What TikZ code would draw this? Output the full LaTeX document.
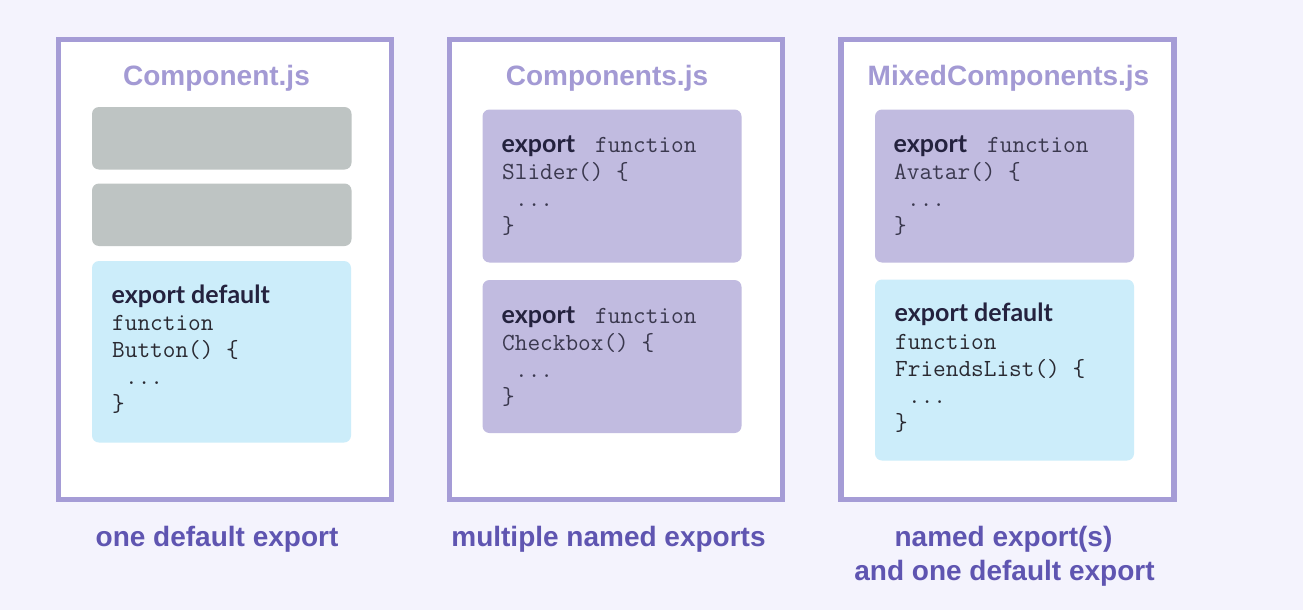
\documentclass[tikz,border=0pt]{standalone}
\usepackage{fontspec}
\setmainfont{Liberation Sans}
\newfontfamily\kwfont{Lato}
\newcommand\codefont{\ttfamily}

\definecolor{pagebg}{HTML}{F4F3FD}
\definecolor{framecol}{HTML}{A59CD6}
\definecolor{titlecol}{HTML}{A39AD4}
\definecolor{labelcol}{HTML}{5F55B1}
\definecolor{grayfill}{HTML}{BEC4C3}
\definecolor{bluefill}{HTML}{CCEDFA}
\definecolor{purplefill}{HTML}{C1BBE0}
\definecolor{kwcol}{HTML}{24223E}
\definecolor{codecolA}{HTML}{3A384E}
\definecolor{codecolB}{HTML}{2A2A32}

\tikzset{
  filebox/.style={draw=framecol, line width=5.5pt, fill=white, inner sep=0pt,
    minimum width=333pt, minimum height=460pt},
  block/.style={rounded corners=7pt, inner sep=0pt, draw=none},
  graybox/.style={block, fill=grayfill},
  bluebox/.style={block, fill=bluefill},
  purplebox/.style={block, fill=purplefill},
  title/.style={anchor=base, inner sep=0pt, text=titlecol,
    font=\fontsize{28}{34}\selectfont\bfseries},
  caption/.style={anchor=base, inner sep=0pt, text=labelcol,
    font=\fontsize{28}{34}\selectfont\bfseries},
  kw/.style={anchor=base west, inner sep=0pt, text=kwcol,
    font=\kwfont\fontsize{25}{27}\selectfont\bfseries},
  code/.style={anchor=base west, inner sep=0pt,
    font=\codefont\fontsize{24.6}{27}\selectfont},
}

\begin{document}
\begin{tikzpicture}[x=1pt, y=-1pt]
  \fill[pagebg] (0,0) rectangle (1303,610);
  \useasboundingbox (0,0) rectangle (1303,610);

  % the three module files
  \node[filebox] (f1) at (225,269.5) {};
  \node[filebox] (f2) at (616,269.5) {};
  \node[filebox] (f3) at (1007.5,269.5) {};

  \node[title] (t1) at (216.5,85) {Component.js};
  \node[title] (t2) at (607,85) {Components.js};
  \node[title] (t3) at (1008.5,85) {MixedComponents.js};

  % Component.js: one default export
  \node[graybox, minimum width=259.5pt, minimum height=62.5pt] (g1) at (221.75,138.25) {};
  \node[graybox, minimum width=259.5pt, minimum height=62.5pt] (g2) at (221.75,214.75) {};
  \node[bluebox, minimum width=259pt, minimum height=181.5pt] (b1) at (221.5,351.75) {};
  \node[kw] (b1k) at (111.5,303) {export default};
  \node[code, text=codecolB] (b1c1) at (112,330) {function};
  \node[code, text=codecolB] (b1c2) at (112,357) {Button() \{};
  \node[code, text=codecolB] (b1c3) at (112,384) {\hspace*{0.525em}...};
  \node[code, text=codecolB] (b1c4) at (112,411) {\}};

  % Components.js: named exports
  \node[purplebox, minimum width=259pt, minimum height=153pt] (p1) at (612,186) {};
  \node[kw] (p1k) at (501.5,152) {export};
  \node[code, text=codecolA] (p1c0) at (595,152) {function};
  \node[code, text=codecolA] (p1c1) at (502,179) {Slider() \{};
  \node[code, text=codecolA] (p1c2) at (502,206) {\hspace*{0.525em}...};
  \node[code, text=codecolA] (p1c3) at (502,233) {\}};

  \node[purplebox, minimum width=259pt, minimum height=153pt] (p2) at (612,356.5) {};
  \node[kw] (p2k) at (501.5,323) {export};
  \node[code, text=codecolA] (p2c0) at (595,323) {function};
  \node[code, text=codecolA] (p2c1) at (502,350) {Checkbox() \{};
  \node[code, text=codecolA] (p2c2) at (502,377) {\hspace*{0.525em}...};
  \node[code, text=codecolA] (p2c3) at (502,404) {\}};

  % MixedComponents.js: named and default exports
  \node[purplebox, minimum width=259pt, minimum height=153pt] (p3) at (1004.5,186) {};
  \node[kw] (p3k) at (893.5,152) {export};
  \node[code, text=codecolA] (p3c0) at (987,152) {function};
  \node[code, text=codecolA] (p3c1) at (894,179) {Avatar() \{};
  \node[code, text=codecolA] (p3c2) at (894,206) {\hspace*{0.525em}...};
  \node[code, text=codecolA] (p3c3) at (894,233) {\}};

  \node[bluebox, minimum width=259pt, minimum height=181pt] (b3) at (1004.5,370) {};
  \node[kw] (b3k) at (894.5,321) {export default};
  \node[code, text=codecolB] (b3c1) at (895,349) {function};
  \node[code, text=codecolB] (b3c2) at (895,376) {FriendsList() \{};
  \node[code, text=codecolB] (b3c3) at (895,403) {\hspace*{0.525em}...};
  \node[code, text=codecolB] (b3c4) at (895,430) {\}};

  % captions
  \node[caption] (c1) at (217,546) {one default export};
  \node[caption] (c2) at (608.5,546) {multiple named exports};
  \node[caption] (c3a) at (1003.5,546) {named export(s)};
  \node[caption] (c3b) at (1004.5,580) {and one default export};
\end{tikzpicture}
\end{document}
